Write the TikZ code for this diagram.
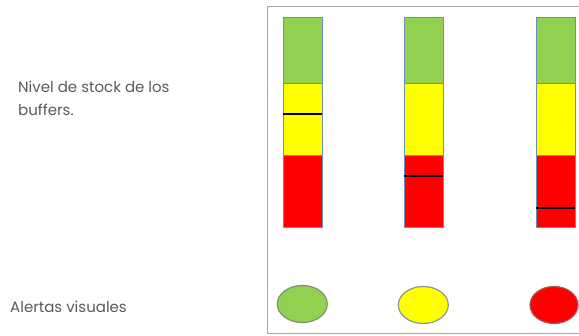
\documentclass[tikz,border=0pt]{standalone}
\usepackage{fontspec}
\setmainfont{Poppins}
\usetikzlibrary{shapes.geometric}
\definecolor{bgreen}{HTML}{92D050}
\definecolor{byellow}{HTML}{FFFF00}
\definecolor{bred}{HTML}{FF0000}
\definecolor{bedge}{HTML}{6A8FB8}
\definecolor{txt}{HTML}{5A5A5A}
\tikzset{
  seg/.style={draw=bedge, line width=0.9pt, minimum width=39pt, inner sep=0pt, anchor=north west},
  lvl/.style={line width=1.8pt, black},
  alert/.style={ellipse, draw=#1, line width=1.2pt, minimum width=50pt, minimum height=37pt, inner sep=0pt},
  lbl/.style={text=txt, font=\fontsize{15}{20}\selectfont, anchor=base west, inner sep=0pt, align=left}
}
\begin{document}
\begin{tikzpicture}[x=1pt,y=-1pt]
\useasboundingbox (0,0) rectangle (579,336);
\begin{scope}
\clip (0,0) rectangle (579,336);
\draw[gray!70, line width=0.9pt] (267,6) rectangle (600,333);
% bar 1
\node[seg, fill=bgreen, minimum height=65.4pt] (g1) at (283,17.3) {};
\node[seg, fill=byellow, minimum height=72.3pt] (y1) at (283,82.7) {};
\node[seg, fill=bred, minimum height=71.7pt] (r1) at (283,155) {};
% bar 2
\node[seg, fill=bgreen, minimum height=65.4pt] (g2) at (404,17.3) {};
\node[seg, fill=byellow, minimum height=72.3pt] (y2) at (404,82.7) {};
\node[seg, fill=bred, minimum height=71.7pt] (r2) at (404,155) {};
% bar 3
\node[seg, fill=bgreen, minimum height=65.4pt] (g3) at (535.5,17.3) {};
\node[seg, fill=byellow, minimum height=72.3pt] (y3) at (535.5,82.7) {};
\node[seg, fill=bred, minimum height=71.7pt] (r3) at (535.5,155) {};
% levels
\coordinate (l1) at (283,114.3);
\draw[lvl] (l1) -- ++(39,0);
\coordinate (l2) at (404,176);
\draw[lvl] (l2) -- ++(39,0);
\coordinate (l3) at (535.5,208.3);
\draw[lvl] (l3) -- ++(39,0);
% alerts
\node[alert=gray!80!bgreen, fill=bgreen] (a1) at (302.3,304) {};
\node[alert=gray!85, fill=byellow] (a2) at (423.3,305) {};
\node[alert=gray!70!bred, fill=bred, minimum width=48pt] (a3) at (554,305) {};
\end{scope}
\node[lbl] (t1) at (18,93) {Nivel de stock de los};
\node[lbl] (t2) at (18,115.5) {buffers.};
\node[lbl] (t3) at (10,313) {Alertas visuales};
\end{tikzpicture}
\end{document}
